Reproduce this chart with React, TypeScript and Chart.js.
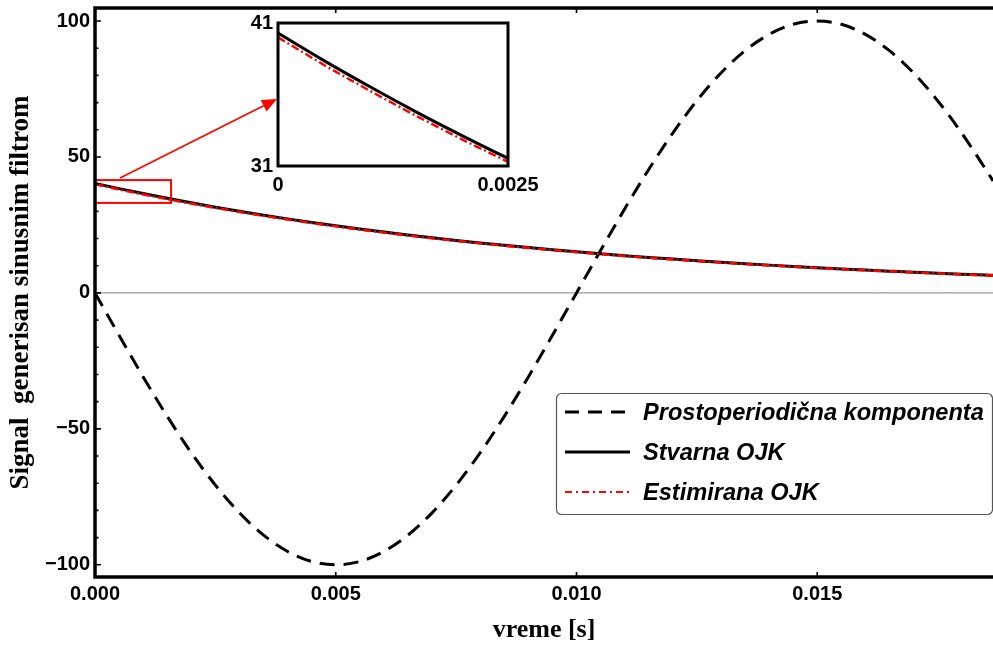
import React, { useEffect, useRef } from "react";
import { Chart, registerables } from "chart.js";
Chart.register(...registerables);

// time samples [s]
const times = [
  0, 0.0005, 0.001, 0.0015, 0.002, 0.0025, 0.003, 0.0035, 0.004, 0.0045,
  0.005, 0.0055, 0.006, 0.0065, 0.007, 0.0075, 0.008, 0.0085, 0.009, 0.0095,
  0.01, 0.0105, 0.011, 0.0115, 0.012, 0.0125, 0.013, 0.0135, 0.014, 0.0145,
  0.015, 0.0155, 0.016, 0.0165, 0.017, 0.0175, 0.018, 0.0185, 0.01865,
];
// Prostoperiodična komponenta
const prostoperiodicna = [
  0, -15.6, -30.9, -45.4, -58.8, -70.7, -80.9, -89.1, -95.1, -98.8,
  -100, -98.8, -95.1, -89.1, -80.9, -70.7, -58.8, -45.4, -30.9, -15.6,
  0, 15.6, 30.9, 45.4, 58.8, 70.7, 80.9, 89.1, 95.1, 98.8,
  100, 98.8, 95.1, 89.1, 80.9, 70.7, 58.8, 45.4, 41.2,
];
// Stvarna OJK
const stvarna = [
  40.3, 38.37, 36.54, 34.79, 33.13, 31.54, 30.03, 28.6, 27.23, 25.93,
  24.69, 23.51, 22.38, 21.31, 20.29, 19.32, 18.4, 17.52, 16.68, 15.88,
  15.12, 14.4, 13.71, 13.05, 12.43, 11.84, 11.27, 10.73, 10.22, 9.73,
  9.26, 8.82, 8.4, 8.0, 7.61, 7.25, 6.9, 6.57, 6.48,
];
// Estimirana OJK
const estimirana = [
  40.0, 38.06, 36.25, 34.51, 32.86, 31.29, 29.79, 28.37, 27.01, 25.72,
  24.49, 23.32, 22.2, 21.14, 20.13, 19.17, 18.25, 17.38, 16.55, 15.75,
  15.0, 14.28, 13.6, 12.95, 12.33, 11.75, 11.18, 10.64, 10.14, 9.65,
  9.19, 8.75, 8.33, 7.94, 7.55, 7.19, 6.84, 6.52, 6.43,
];

const xTicks = [0, 0.005, 0.01, 0.015];
const yTicks = [-100, -50, 0, 50, 100];
const yMinorTicks = [-100, -90, -80, -70, -60, -50, -40, -30, -20, -10, 0, 10, 20, 30, 40, 50, 60, 70, 80, 90, 100];
const insetXTicks = [0, 0.0025];
const insetYTicks = [31, 41];
const legendLabels = ["Prostoperiodična komponenta", "Stvarna OJK", "Estimirana OJK"];

// zoom box and arrow (data coordinates)
const zoomBoxX = [0, 0.00158];
const zoomBoxY = [33.1, 41.5];
const arrowFrom = [0.00052, 42.3];
const arrowTo = [0.00378, 71.3];

const SANS = '"Liberation Sans", Arial, sans-serif';
const SERIF = '"Liberation Serif", "Times New Roman", serif';

const pts = (ys: number[]) => times.map((t, i) => ({ x: t, y: ys[i] }));

const RED_DASH = [8, 3, 2, 3];
const SINE_DASH = [15, 9];

function zeroPad(s: any) {
  s.paddingTop = 0;
  s.paddingBottom = 0;
  s.paddingLeft = 0;
  s.paddingRight = 0;
}

const mainPlugin = {
  id: "mainDecor",
  beforeDatasetsDraw(chart: any) {
    const { ctx, chartArea: a, scales } = chart;
    const y0 = scales.y.getPixelForValue(0);
    ctx.save();
    ctx.strokeStyle = "#9a9a9a";
    ctx.lineWidth = 1.2;
    ctx.beginPath();
    ctx.moveTo(a.left, y0);
    ctx.lineTo(a.right, y0);
    ctx.stroke();
    ctx.restore();
  },
  afterDatasetsDraw(chart: any) {
    const { ctx, chartArea: a, scales } = chart;
    const xs = scales.x, ys = scales.y;
    ctx.save();
    // zoom rectangle
    ctx.strokeStyle = "#ff0000";
    ctx.lineWidth = 2;
    const rx0 = xs.getPixelForValue(zoomBoxX[0]);
    const rx1 = xs.getPixelForValue(zoomBoxX[1]);
    const ry0 = ys.getPixelForValue(zoomBoxY[1]);
    const ry1 = ys.getPixelForValue(zoomBoxY[0]);
    ctx.strokeRect(rx0, ry0, rx1 - rx0, ry1 - ry0);
    // arrow
    const ax0 = xs.getPixelForValue(arrowFrom[0]);
    const ay0 = ys.getPixelForValue(arrowFrom[1]);
    const ax1 = xs.getPixelForValue(arrowTo[0]);
    const ay1 = ys.getPixelForValue(arrowTo[1]);
    const ang = Math.atan2(ay1 - ay0, ax1 - ax0);
    const hl = 15, hw = 6.5;
    const bx = ax1 - hl * Math.cos(ang), by = ay1 - hl * Math.sin(ang);
    ctx.lineWidth = 1.6;
    ctx.beginPath();
    ctx.moveTo(ax0, ay0);
    ctx.lineTo(bx, by);
    ctx.stroke();
    ctx.fillStyle = "#ff0000";
    ctx.beginPath();
    ctx.moveTo(ax1, ay1);
    ctx.lineTo(bx + hw * Math.sin(ang), by - hw * Math.cos(ang));
    ctx.lineTo(bx - hw * Math.sin(ang), by + hw * Math.cos(ang));
    ctx.closePath();
    ctx.fill();

    // ticks
    ctx.strokeStyle = "#000";
    ctx.lineWidth = 1.6;
    ctx.beginPath();
    yMinorTicks.forEach((v) => {
      const p = ys.getPixelForValue(v);
      const len = yTicks.includes(v) ? 6 : 3.5;
      ctx.moveTo(a.left, p);
      ctx.lineTo(a.left + len, p);
    });
    xTicks.forEach((v) => {
      if (v === 0) return;
      const p = xs.getPixelForValue(v);
      ctx.moveTo(p, a.bottom);
      ctx.lineTo(p, a.bottom - 5);
      ctx.moveTo(p, a.top);
      ctx.lineTo(p, a.top + 5);
    });
    ctx.stroke();

    // frame
    ctx.lineWidth = 3.5;
    ctx.beginPath();
    ctx.moveTo(a.right + 5, a.top);
    ctx.lineTo(a.left, a.top);
    ctx.lineTo(a.left, a.bottom);
    ctx.lineTo(a.right + 5, a.bottom);
    ctx.stroke();
    ctx.restore();
  },
  afterDraw(chart: any) {
    const { ctx } = chart;
    const bx = 556.5, by = 393.5, bw = 436, bh = 121, r = 5;
    ctx.save();
    ctx.fillStyle = "#fff";
    ctx.strokeStyle = "#555";
    ctx.lineWidth = 1.2;
    ctx.beginPath();
    ctx.moveTo(bx + r, by);
    ctx.lineTo(bx + bw - r, by);
    ctx.arcTo(bx + bw, by, bx + bw, by + r, r);
    ctx.lineTo(bx + bw, by + bh - r);
    ctx.arcTo(bx + bw, by + bh, bx + bw - r, by + bh, r);
    ctx.lineTo(bx + r, by + bh);
    ctx.arcTo(bx, by + bh, bx, by + bh - r, r);
    ctx.lineTo(bx, by + r);
    ctx.arcTo(bx, by, bx + r, by, r);
    ctx.closePath();
    ctx.fill();
    ctx.stroke();

    const rows = [412, 452, 492];
    const styles = [
      { color: "#000", width: 3, dash: [14, 9] },
      { color: "#000", width: 3, dash: [] as number[] },
      { color: "#ff0000", width: 2, dash: [7, 4, 2, 4] },
    ];
    ctx.font = `italic bold 23.6px ${SANS}`;
    ctx.textBaseline = "middle";
    rows.forEach((yy, i) => {
      const st = styles[i];
      ctx.strokeStyle = st.color;
      ctx.lineWidth = st.width;
      ctx.setLineDash(st.dash);
      ctx.beginPath();
      ctx.moveTo(565, yy);
      ctx.lineTo(630, yy);
      ctx.stroke();
      ctx.setLineDash([]);
      ctx.fillStyle = "#000";
      ctx.fillText(legendLabels[i], 643, yy + 1);
    });
    ctx.restore();
  },
};

const insetPlugin = {
  id: "insetDecor",
  beforeDatasetsDraw(chart: any) {
    const { ctx, chartArea: a } = chart;
    ctx.save();
    ctx.fillStyle = "#fff";
    ctx.fillRect(a.left, a.top, a.right - a.left, a.bottom - a.top);
    ctx.restore();
  },
  afterDatasetsDraw(chart: any) {
    const { ctx, chartArea: a } = chart;
    ctx.save();
    ctx.strokeStyle = "#000";
    ctx.lineWidth = 3;
    ctx.strokeRect(a.left, a.top, a.right - a.left, a.bottom - a.top);
    ctx.restore();
  },
};

const tickFont = { family: SANS, size: 20, weight: "bold" as const };

export default function App() {
  const mainRef = useRef<HTMLCanvasElement>(null);
  const insetRef = useRef<HTMLCanvasElement>(null);

  useEffect(() => {
    document.body.style.margin = "0";
    const main = new Chart(mainRef.current!, {
      type: "line",
      data: {
        datasets: [
          {
            label: "Estimirana OJK",
            data: pts(estimirana),
            borderColor: "#ff0000",
            borderWidth: 2.6,
            borderDash: RED_DASH,
            pointRadius: 0,
            cubicInterpolationMode: "monotone",
          },
          {
            label: "Stvarna OJK",
            data: pts(stvarna),
            borderColor: "#000",
            borderWidth: 3,
            pointRadius: 0,
            cubicInterpolationMode: "monotone",
          },
          {
            label: "Prostoperiodična komponenta",
            data: pts(prostoperiodicna),
            borderColor: "#000",
            borderWidth: 3,
            borderDash: SINE_DASH,
            pointRadius: 0,
            cubicInterpolationMode: "monotone",
          },
        ],
      },
      options: {
        animation: false,
        responsive: false,
        maintainAspectRatio: false,
        layout: { padding: { top: 8, right: 0, left: 0, bottom: 0 } },
        plugins: { legend: { display: false }, tooltip: { enabled: false } },
        scales: {
          x: {
            type: "linear",
            min: 0,
            max: 0.01865,
            afterBuildTicks: (s: any) => {
              s.ticks = xTicks.map((v) => ({ value: v }));
            },
            afterFit: (s: any) => {
              s.height = 68;
              zeroPad(s);
            },
            grid: { display: false, drawTicks: false },
            border: { display: false },
            ticks: {
              font: tickFont,
              color: "#000",
              padding: 5,
              maxRotation: 0,
              autoSkip: false,
              callback: (v: any) => Number(v).toFixed(3),
            },
            title: {
              display: true,
              text: "vreme [s]",
              color: "#000",
              font: { family: SERIF, size: 26, weight: "bold", lineHeight: 1 },
              padding: { top: 0, bottom: 2 },
            },
          },
          y: {
            type: "linear",
            min: -104.5,
            max: 104.8,
            afterBuildTicks: (s: any) => {
              s.ticks = yTicks.map((v) => ({ value: v }));
            },
            afterFit: (s: any) => {
              s.width = 95;
              zeroPad(s);
            },
            grid: { display: false, drawTicks: false },
            border: { display: false },
            ticks: {
              font: tickFont,
              color: "#000",
              padding: 5,
              autoSkip: false,
              callback: (v: any) => String(v).replace("-", "\u2212"),
            },
            title: {
              display: true,
              text: "Signal  generisan sinusnim filtrom",
              color: "#000",
              font: { family: SERIF, size: 27, weight: "bold", lineHeight: 1 },
              padding: { top: 8, bottom: 0 },
            },
          },
        },
      },
      plugins: [mainPlugin],
    } as any);

    const inset = new Chart(insetRef.current!, {
      type: "line",
      data: {
        datasets: [
          {
            label: "Estimirana OJK",
            data: pts(estimirana),
            borderColor: "#ff0000",
            borderWidth: 2.4,
            borderDash: RED_DASH,
            pointRadius: 0,
          },
          {
            label: "Stvarna OJK",
            data: pts(stvarna),
            borderColor: "#000",
            borderWidth: 3,
            pointRadius: 0,
            cubicInterpolationMode: "monotone",
          },
        ],
      },
      options: {
        animation: false,
        responsive: false,
        maintainAspectRatio: false,
        layout: { padding: { top: 20, right: 50, left: 0, bottom: 0 } },
        plugins: { legend: { display: false }, tooltip: { enabled: false } },
        scales: {
          x: {
            type: "linear",
            min: 0,
            max: 0.0025,
            afterBuildTicks: (s: any) => {
              s.ticks = insetXTicks.map((v) => ({ value: v }));
            },
            afterFit: (s: any) => {
              s.height = 37;
              zeroPad(s);
            },
            grid: { display: false, drawTicks: false },
            border: { display: false },
            ticks: {
              font: tickFont,
              color: "#000",
              padding: 7,
              maxRotation: 0,
              autoSkip: false,
              callback: (v: any) => (Number(v) === 0 ? "0" : String(v)),
            },
          },
          y: {
            type: "linear",
            min: 31,
            max: 41,
            afterBuildTicks: (s: any) => {
              s.ticks = insetYTicks.map((v) => ({ value: v }));
            },
            afterFit: (s: any) => {
              s.width = 50;
              zeroPad(s);
            },
            grid: { display: false, drawTicks: false },
            border: { display: false },
            ticks: {
              font: tickFont,
              color: "#000",
              padding: 5,
              autoSkip: false,
            },
          },
        },
      },
      plugins: [insetPlugin],
    } as any);

    return () => {
      main.destroy();
      inset.destroy();
    };
  }, []);

  return (
    <div style={{ position: "fixed", left: 0, top: 0, width: 993, height: 645, background: "#fff" }}>
      <canvas ref={mainRef} width={993} height={645} style={{ position: "absolute", left: 0, top: 0, width: 993, height: 645 }} />
      <canvas ref={insetRef} width={330} height={200} style={{ position: "absolute", left: 228, top: 3, width: 330, height: 200 }} />
    </div>
  );
}
